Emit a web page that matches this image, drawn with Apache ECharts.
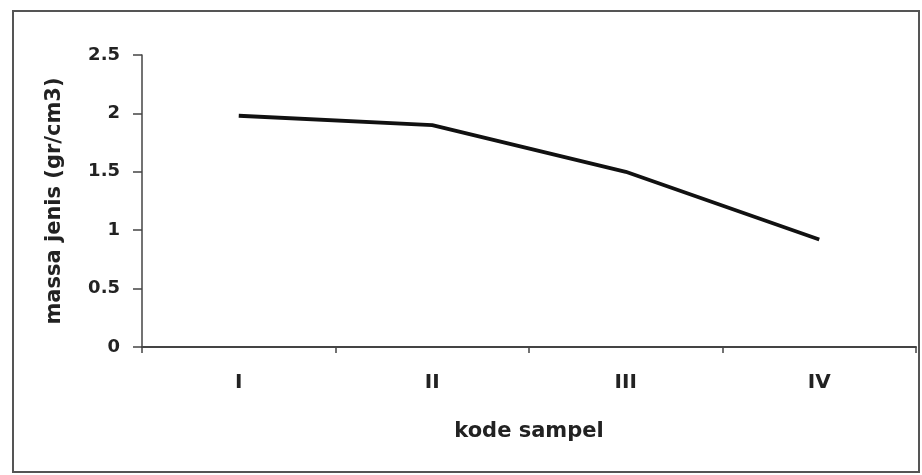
<!DOCTYPE html>
<html>
<head>
<meta charset="utf-8">
<script src="https://cdn.jsdelivr.net/npm/echarts@6/dist/echarts.min.js"></script>
<style>
html,body{margin:0;padding:0;background:#fff;}
#chart{width:922px;height:475px;}
</style>
</head>
<body>
<div id="chart"></div>
<script>
const categories = ['I', 'II', 'III', 'IV'];
const massaJenis = [1.98, 1.9, 1.5, 0.92];
const yTicks = { min: 0, max: 2.5, interval: 0.5 };
const xName = 'kode sampel';
const yName = 'massa jenis (gr/cm3)';

const chart = echarts.init(document.getElementById('chart'), null, {renderer: 'canvas'});
const font = 'DejaVu Sans';
chart.setOption({
  animation: false,
  backgroundColor: '#fff',
  graphic: [{
    type: 'rect',
    shape: { x: 13, y: 11, width: 906, height: 461 },
    style: { fill: 'none', stroke: '#555', lineWidth: 2 },
    silent: true
  }],
  grid: { left: 142, right: 6, top: 55, bottom: 128 },
  xAxis: {
    type: 'category',
    data: categories,
    boundaryGap: true,
    name: xName,
    nameLocation: 'middle',
    nameGap: 74,
    nameTextStyle: { fontFamily: font, fontWeight: 'bold', fontSize: 21, color: '#222' },
    axisLine: { lineStyle: { color: '#444', width: 2 } },
    axisTick: { show: true, alignWithLabel: false, length: 6, inside: false, lineStyle: { color: '#444', width: 1.5 } },
    axisLabel: { fontFamily: font, fontSize: 20, fontWeight: 'bold', color: '#222', margin: 26 }
  },
  yAxis: {
    type: 'value',
    min: yTicks.min,
    max: yTicks.max,
    interval: yTicks.interval,
    name: yName,
    nameLocation: 'middle',
    nameGap: 77,
    nameTextStyle: { fontFamily: font, fontWeight: 'bold', fontSize: 21, color: '#222' },
    axisLine: { show: true, lineStyle: { color: '#444', width: 1.5 } },
    axisTick: { show: true, length: 9, lineStyle: { color: '#444', width: 1.5 } },
    axisLabel: { fontFamily: font, fontSize: 18, fontWeight: 'bold', color: '#222', margin: 22,
      formatter: v => String(v) },
    splitLine: { show: false }
  },
  series: [{
    type: 'line',
    data: massaJenis,
    showSymbol: false,
    symbol: 'none',
    lineStyle: { color: '#111', width: 3.8 }
  }]
});
</script>
</body>
</html>
